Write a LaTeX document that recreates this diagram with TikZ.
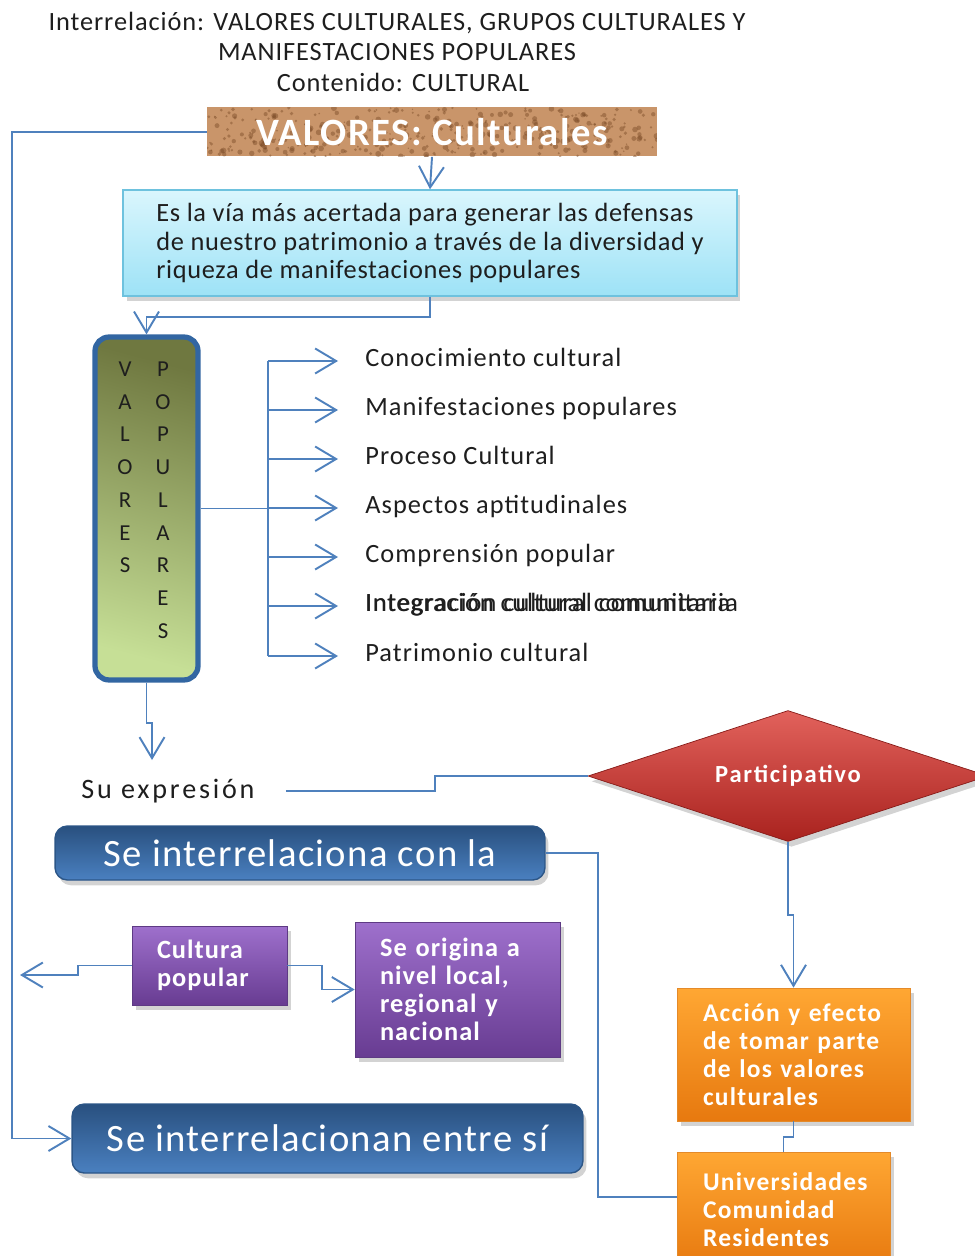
\documentclass[tikz,border=0pt]{standalone}
\usepackage{fontspec}
\setmainfont{Carlito}
\usetikzlibrary{arrows.meta,shapes.geometric,shadows,calc}

\definecolor{azulLinea}{HTML}{4F81BD}
\definecolor{texto}{HTML}{1E1E1E}
\definecolor{arena}{HTML}{C9956A}
\definecolor{arenaOscura}{HTML}{7A4A26}
\definecolor{cianArriba}{HTML}{DAF6FD}
\definecolor{cianAbajo}{HTML}{9DE2F6}
\definecolor{cianBorde}{HTML}{6EC2DE}
\definecolor{vpOscuro}{HTML}{6F7840}
\definecolor{vpClaro}{HTML}{C6DF96}
\definecolor{vpBorde}{HTML}{3266A2}
\definecolor{rojoArriba}{HTML}{E2625C}
\definecolor{rojoAbajo}{HTML}{A9221E}
\definecolor{azulArriba}{HTML}{29507F}
\definecolor{azulAbajo}{HTML}{4A80C0}
\definecolor{azulBorde}{HTML}{2C5687}
\definecolor{moradoArriba}{HTML}{9E70CC}
\definecolor{moradoAbajo}{HTML}{683C92}
\definecolor{moradoBorde}{HTML}{5E3A84}
\definecolor{naranjaArriba}{HTML}{FFA733}
\definecolor{naranjaAbajo}{HTML}{E7790F}
\definecolor{naranjaBorde}{HTML}{E48A2A}

\begin{document}
\begin{tikzpicture}[x=0.02cm, y=-0.02cm,
    linea/.style={draw=azulLinea, line width=1.1pt},
    flecha/.style={linea, -{Straight Barb[length=0.42cm,width=0.5cm]}},
    sombra/.style={drop shadow={opacity=0.35, shadow xshift=2pt, shadow yshift=-3pt}},
    titulo/.style={inner sep=0pt, text=texto, font=\fontsize{15}{17}\selectfont\addfontfeatures{LetterSpace=3.5}},
    cajaazul/.style={rounded corners=7pt, draw=azulBorde, line width=0.8pt, top color=azulArriba, bottom color=azulAbajo, text=white, inner sep=0pt, sombra, font=\fontsize{22}{24}\selectfont\addfontfeatures{LetterSpace=3.5}},
    morado/.style={draw=moradoBorde, top color=moradoArriba, bottom color=moradoAbajo, text=white, align=left, inner sep=0pt, sombra, font=\fontsize{15}{16}\selectfont\bfseries\addfontfeatures{LetterSpace=4}},
    naranja/.style={draw=naranjaBorde, top color=naranjaArriba, bottom color=naranjaAbajo, text=white, align=left, inner sep=0pt, sombra, font=\fontsize{14.5}{16}\selectfont\bfseries\addfontfeatures{LetterSpace=5}},
    item/.style={anchor=west, inner sep=0pt, text height=1.6ex, text depth=.4ex, text=texto, font=\fontsize{15}{16}\selectfont\addfontfeatures{LetterSpace=4}},
    letra/.style={inner sep=0pt, text=texto, font=\fontsize{13}{14}\selectfont}
  ]
  \useasboundingbox (0,0) rectangle (974,1256);
  \pgfmathsetseed{7}

  % titulo
  \node[titulo] (tit1) at (397,23) {Interrelación: VALORES CULTURALES, GRUPOS CULTURALES Y};
  \node[titulo] (tit2) at (397,52) {MANIFESTACIONES POPULARES};
  \node[titulo] (tit3) at (403,82) {Contenido: CULTURAL};

  % parte superior
  \node[fill=arena, minimum width=9cm, minimum height=0.98cm, inner sep=0pt, text=white,
        font=\fontsize{22}{24}\selectfont\bfseries\addfontfeatures{LetterSpace=4},
        path picture={\foreach \k in {1,...,380}
          \fill[arenaOscura, opacity=0.45] ($(path picture bounding box.north west)+(rnd*450,rnd*49)$) circle ({0.4pt+1.3pt*rnd});}]
        (valores) at (432,132) {VALORES: Culturales};
  \node[draw=cianBorde, line width=0.8pt, top color=cianArriba, bottom color=cianAbajo, sombra,
        minimum width=12.28cm, minimum height=2.12cm, inner sep=0pt, align=left,
        text=texto, font=\fontsize{15}{16}\selectfont\addfontfeatures{LetterSpace=2.5}]
        (cian) at (430,243) {Es la vía más acertada para generar las defensas\\de nuestro patrimonio a través de la diversidad y\\riqueza de manifestaciones populares};

  % valores populares
  \node[rounded corners=8pt, draw=vpBorde, line width=3pt, top color=vpOscuro, bottom color=vpClaro,
        shading angle=-15, minimum width=2.06cm, minimum height=6.86cm, inner sep=0pt]
        (vp) at (146.5,508.5) {};
  \foreach \l [count=\i] in {V,A,L,O,R,E,S}
    \node[letra] (va\i) at (125,{369+(\i-1)*32.75}) {\l};
  \foreach \l [count=\i] in {P,O,P,U,L,A,R,E,S}
    \node[letra] (po\i) at (163,{369+(\i-1)*32.75}) {\l};

  \node[item] (it1) at (365,361) {Conocimiento cultural};
  \node[item] (it2) at (365,410) {Manifestaciones populares};
  \node[item] (it3) at (365,459) {Proceso Cultural};
  \node[item] (it4) at (365,508) {Aspectos aptitudinales};
  \node[item] (it5) at (365,557) {Comprensión popular};
  \node[item] (it6) at (365,606) {\rlap{\addfontfeatures{LetterSpace=3}Integración cultural comunitaria}Integración cultural comunitaria};
  \node[item] (it7) at (365,656) {Patrimonio cultural};

  % expresion y participativo
  \node[inner sep=0pt, text=texto, font=\fontsize{16}{18}\selectfont\addfontfeatures{LetterSpace=10}]
        (expr) at (168,791) {Su expresión};
  \node[diamond, aspect=3, minimum width=8cm, minimum height=2.62cm, inner sep=0pt,
        top color=rojoArriba, bottom color=rojoAbajo, draw=rojoAbajo!80!black, sombra,
        text=white, font=\fontsize{14}{16}\selectfont\bfseries\addfontfeatures{LetterSpace=7}]
        (part) at (788,776) {Participativo};

  % cajas inferiores
  \node[cajaazul, minimum width=9.8cm, minimum height=1.08cm] (inter1) at (300,853) {Se interrelaciona con la};
  \node[morado, minimum width=3.1cm, minimum height=1.58cm, text width=2.1cm] (cultura) at (209.5,965.5) {Cultura\\popular};
  \node[morado, minimum width=4.1cm, minimum height=2.7cm, text width=3.1cm] (origen) at (457.5,989.5) {Se origina a\\nivel local,\\regional y\\nacional};
  \node[cajaazul, minimum width=10.22cm, minimum height=1.38cm] (inter2) at (327.5,1138.5) {Se interrelacionan entre sí};
  \node[naranja, minimum width=4.66cm, minimum height=2.66cm, text width=3.62cm] (acc) at (793.5,1054.5) {Acción y efecto\\de tomar parte\\de los valores\\culturales};
  \node[naranja, minimum width=4.26cm, minimum height=2.3cm, text width=3.22cm] (univ) at (783.5,1209.5) {Universidades\\Comunidad\\Residentes};

  % conectores
  \draw[flecha] (valores.south) -- (cian.north);
  \draw[flecha] (cian.south) -- ++(0,20) -| (vp.north);
  \coordinate (rama) at (268,509);
  \draw[linea] (vp.east) -- (vp.east -| rama);
  \draw[linea] (rama |- it1.west) -- (rama |- it7.west);
  \foreach \i in {1,...,7}
    \draw[flecha] (rama |- it\i.west) -- ([xshift=-0.54cm]it\i.west);
  \coordinate (puntaExp) at (152,760);
  \draw[flecha] (vp.south) -- ++(0,40) -| (puntaExp);
  \draw[linea] ([xshift=0.62cm]expr.east) -- ++(149,0) |- (part.west);
  \draw[flecha] (part.south) -- ++(0,73) -| (acc.north);
  \draw[linea] (acc.south) -- ++(0,16) -| (univ.north);
  \draw[linea] ([yshift=0.25cm]univ.west) -- ++(-79,0) |- (inter1.east);
  \coordinate (puntaIzq) at (20,975);
  \draw[flecha] (cultura.west) -- ++(-54,0) |- (puntaIzq);
  \draw[flecha] (cultura.east) -- ++(35,0) |- (origen.west);
  \draw[flecha] (valores.west) -- ++(-195,0) |- (inter2.west);
\end{tikzpicture}
\end{document}
